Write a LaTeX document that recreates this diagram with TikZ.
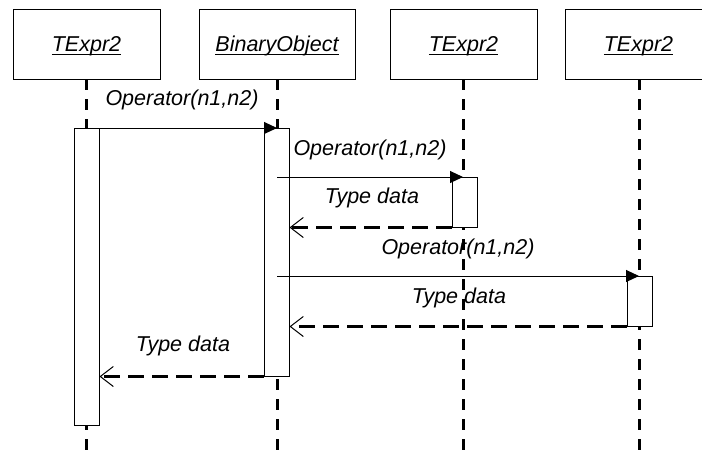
\documentclass[tikz,border=0pt]{standalone}
\usepackage{fontspec}
\setmainfont{Liberation Sans}
\usetikzlibrary{arrows.meta}
\newcommand{\ulmark}[1]{{\setbox0\hbox{#1}\rlap{\rule[-4pt]{\wd0}{1.1pt}}\box0}}
\tikzset{
  head/.style={draw, line width=1pt, fill=white, inner sep=0pt, minimum height=70pt},
  bar/.style={draw, line width=1pt, fill=white, inner sep=0pt, minimum width=25pt},
  lifeline/.style={line width=3pt, dash pattern=on 11pt off 9pt},
  call/.style={line width=1pt, -{Triangle[length=13pt,width=12pt]}},
  reply/.style={line width=3pt, dash pattern=on 16pt off 8pt, -{Straight Barb[length=13pt,width=20pt,line width=1pt]}},
  lbl/.style={anchor=base, inner sep=0pt, font=\fontsize{21.5}{26}\selectfont\itshape},
  ttl/.style={font=\fontsize{21.5}{26}\selectfont\itshape}
}
\begin{document}
\begin{tikzpicture}[x=1pt, y=-1pt]
\useasboundingbox (0,0) rectangle (702,458);
\begin{scope}
\clip (0,0) rectangle (702,458);
% heads
\node[head, minimum width=147pt] (h1) at (86.5,44) {};
\node[head, minimum width=156pt] (h2) at (277,44) {};
\node[head, minimum width=147pt] (h3) at (463.5,44) {};
\node[head, minimum width=147pt] (h4) at (638.5,44) {};
\node[ttl, anchor=base] (t1) at (86.5,51) {\ulmark{TExpr2}};
\node[ttl, anchor=base] (t2) at (277,51) {\ulmark{BinaryObject}};
\node[ttl, anchor=base] (t3) at (463.5,51) {\ulmark{TExpr2}};
\node[ttl, anchor=base] (t4) at (638.5,51) {\ulmark{TExpr2}};
% lifeline coordinates
\coordinate (s1) at (86,79);  \coordinate (e1) at (86,458);
\coordinate (s2) at (277,79); \coordinate (e2) at (277,458);
\coordinate (s3) at (463,79); \coordinate (e3) at (463,458);
\coordinate (s4) at (639,79); \coordinate (e4) at (639,458);
\draw[lifeline] (s1) -- (e1);
\draw[lifeline] (s2) -- (e2);
\draw[lifeline] (s3) -- (e3);
\draw[lifeline] (s4) -- (e4);
% activation bars
\node[bar, minimum height=297pt] (b1) at (86.5,276.5) {};
\node[bar, minimum height=248pt] (b2) at (276.5,252) {};
\node[bar, minimum height=50pt] (b3) at (464.5,202) {};
\node[bar, minimum height=50pt] (b4) at (639.5,301) {};
% messages
\coordinate (m1s) at (86,128);  \coordinate (m1e) at (277,128);
\draw[call] (m1s) -- (m1e);
\coordinate (m2s) at (277,177); \coordinate (m2e) at (463,177);
\draw[call] (m2s) -- (m2e);
\draw[reply] (b3.south west) -- (b2.east |- b3.south);
\coordinate (m4s) at (277,276); \coordinate (m4e) at (639,276);
\draw[call] (m4s) -- (m4e);
\draw[reply] (b4.south west) -- (b2.east |- b4.south);
\draw[reply] (b2.south west) -- (b1.east |- b2.south);
% labels
\node[lbl] (l1) at (182,105.7) {Operator(n1,n2)};
\node[lbl] (l2) at (370,155) {Operator(n1,n2)};
\node[lbl] (l3) at (372,203.5) {Type data};
\node[lbl] (l4) at (458,254) {Operator(n1,n2)};
\node[lbl] (l5) at (459,303.5) {Type data};
\node[lbl] (l6) at (183,351.5) {Type data};
\end{scope}
\end{tikzpicture}
\end{document}
